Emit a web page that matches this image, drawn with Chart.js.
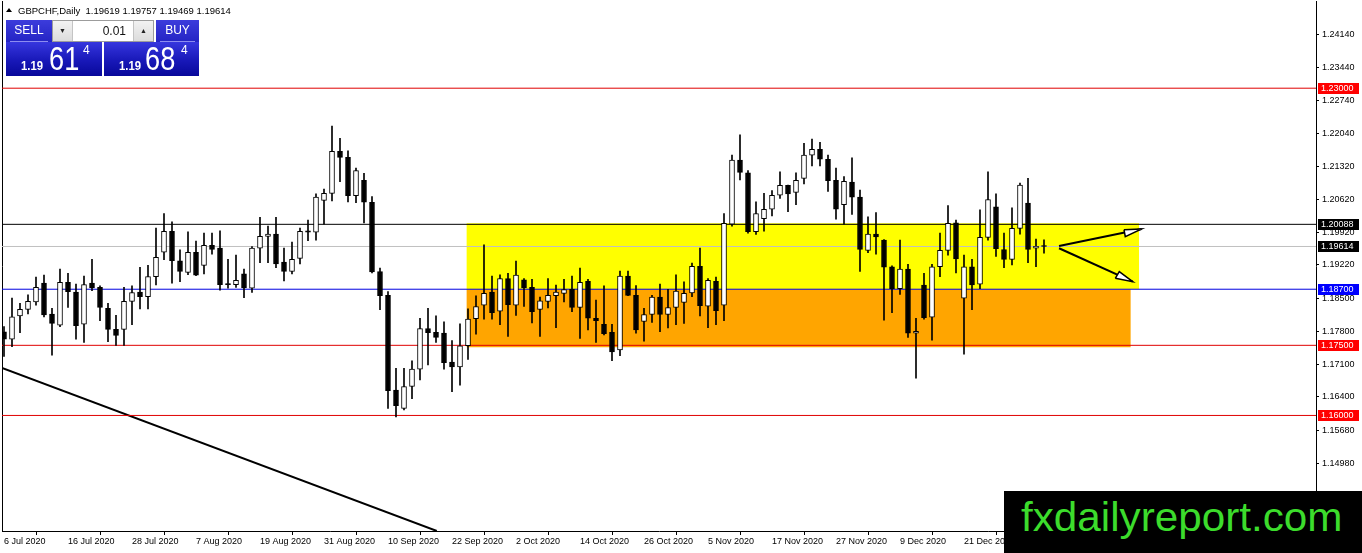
<!DOCTYPE html>
<html><head><meta charset="utf-8">
<script src="https://cdn.jsdelivr.net/npm/chart.js@4.4.0/dist/chart.umd.min.js"></script>
<style>
html,body{margin:0;padding:0;background:#fff;}
#wrap{position:relative;width:1362px;height:553px;overflow:hidden;font-family:"Liberation Sans",Arial,sans-serif;}
#c{position:absolute;left:0;top:0;}
#hdr{position:absolute;left:18px;top:6px;font-size:9.5px;line-height:1;color:#000;white-space:pre;}
#tri{position:absolute;left:6px;top:8px;width:0;height:0;border-left:3px solid transparent;border-right:3px solid transparent;border-bottom:4px solid #000;}
.btn{position:absolute;top:20px;height:22px;background:linear-gradient(#3c3cdc,#2424c4);color:#fff;font-size:12px;line-height:21px;text-align:center;}
.btn .ul{position:absolute;left:4px;right:4px;bottom:0;height:1px;background:#8c8cf0;}
#sell{left:6px;width:46px;}
#buy{left:156px;width:43px;}
#lot{position:absolute;left:52px;top:20px;width:100px;height:20px;background:#fff;border:1px solid #9c9c9c;}
#lot .ar{position:absolute;top:0;width:19px;height:20px;background:linear-gradient(#f2f2f2,#dcdcdc);font-size:7px;line-height:20px;text-align:center;color:#222;}
#dn{left:0;border-right:1px solid #c4c4c4;}
#up{right:0;border-left:1px solid #c4c4c4;}
#lotv{position:absolute;right:27px;top:4px;font-size:12px;line-height:1;color:#111;}
.big{position:absolute;top:42px;height:34px;background:linear-gradient(#3636de 0%,#1818b8 55%,#08089a 100%);color:#fff;}
#bigL{left:6px;width:96px;}
#bigR{left:104px;width:95px;}
.big span{position:absolute;line-height:1;transform-origin:left top;white-space:pre;}
.big .s{font-size:13px;font-weight:bold;top:17px;transform:scaleX(0.87);}
.big .l{font-size:34px;top:-1px;transform:scaleX(0.8);}
.big .p{font-size:12px;top:2px;}
#logo{position:absolute;left:1004px;top:491px;width:358px;height:62px;background:#000;}
#logo span{position:absolute;left:17px;top:6px;font-size:41px;line-height:1;color:#3cdc2c;transform:scaleX(1.03);transform-origin:left top;white-space:pre;}
</style></head>
<body>
<div id="wrap">
<canvas id="c" width="1362" height="553"></canvas>
<div id="tri"></div>
<div id="hdr">GBPCHF,Daily  1.19619 1.19757 1.19469 1.19614</div>
<div class="btn" id="sell">SELL<div class="ul"></div></div>
<div id="lot"><div class="ar" id="dn">&#9660;</div><div id="lotv">0.01</div><div class="ar" id="up">&#9650;</div></div>
<div class="btn" id="buy">BUY<div class="ul"></div></div>
<div class="big" id="bigL"><span class="s" style="left:15px">1.19</span><span class="l" style="left:43px">61</span><span class="p" style="left:77px">4</span></div>
<div class="big" id="bigR"><span class="s" style="left:15px">1.19</span><span class="l" style="left:41px">68</span><span class="p" style="left:77px">4</span></div>
<div id="logo"><span>fxdailyreport.com</span></div>
</div>
<script>
// ---- data (GBPCHF daily) ----
const opens = [1.1779,1.1763,1.1813,1.1827,1.1843,1.1883,1.1817,1.1793,1.1885,1.1864,
1.1795,1.1883,1.1874,1.1829,1.1784,1.1784,1.1844,1.1864,1.1854,1.1897,
1.1949,1.1994,1.1931,1.1906,1.1949,1.1921,1.1964,1.1958,1.1881,1.1880,
1.1903,1.1872,1.1958,1.1983,1.1988,1.1928,1.1908,1.1936,1.1995,1.1992,
1.2060,1.2075,1.2165,1.2152,1.2070,1.2103,1.2056,1.1908,1.1857,1.1654,
1.1615,1.1662,1.1699,1.1786,1.1778,1.1776,1.1714,1.1704,1.1749,1.1807,
1.1836,1.1864,1.1823,1.1893,1.1836,1.1890,1.1874,1.1827,1.1844,1.1856,
1.1861,1.1870,1.1831,1.1887,1.1808,1.1795,1.1778,1.1740,1.1898,1.1857,
1.1801,1.1816,1.1853,1.1816,1.1831,1.1842,1.1862,1.1919,1.1834,1.1887,
1.1836,1.2009,1.2146,1.2119,1.1993,1.2021,1.2041,1.2071,1.2092,1.2077,
1.2107,1.2157,1.2169,1.2148,1.2103,1.2051,1.2099,1.2067,1.1953,1.1988,
1.1975,1.1918,1.1871,1.1913,1.1776,1.1879,1.1810,1.1918,1.1953,1.2012,
1.1851,1.1918,1.1881,1.1981,1.2046,1.1955,1.1934,1.2000,1.2054,1.1958,
1.19619];
const highs = [1.1790,1.1851,1.1840,1.1858,1.1896,1.1900,1.1829,1.1913,1.1904,1.1881,
1.1898,1.1934,1.1877,1.1840,1.1814,1.1874,1.1877,1.1917,1.1921,1.2001,
1.2032,1.2014,1.1954,1.1993,1.1973,1.1990,1.1990,1.1995,1.1934,1.1943,
1.1913,1.1961,1.2024,1.2005,1.2024,1.1958,1.1971,1.2001,1.2018,1.2074,
1.2084,1.2219,1.2193,1.2166,1.2129,1.2118,1.2068,1.1915,1.1865,1.1701,
1.1701,1.1717,1.1808,1.1829,1.1813,1.1800,1.1760,1.1796,1.1828,1.1856,
1.1965,1.1898,1.1901,1.1904,1.1930,1.1893,1.1891,1.1853,1.1893,1.1879,
1.1891,1.1898,1.1915,1.1891,1.1847,1.1877,1.1795,1.1909,1.1909,1.1878,
1.1829,1.1857,1.1881,1.1870,1.1901,1.1886,1.1926,1.1958,1.1893,1.1896,
1.2032,1.2157,1.2200,1.2124,1.2057,1.2075,1.2081,1.2121,1.2093,1.2119,
1.2182,1.2191,1.2184,1.2157,1.2129,1.2111,1.2151,1.2082,1.2025,1.2034,
1.1976,1.1920,1.1975,1.1923,1.1808,1.1904,1.1923,1.1990,1.2049,1.2018,
1.1943,1.1934,1.2040,1.2121,1.2074,1.1990,1.2044,1.2097,1.2107,1.1977,
1.19757];
const lows = [1.1726,1.1747,1.1777,1.1817,1.1836,1.1811,1.1729,1.1790,1.1831,1.1763,
1.1756,1.1867,1.1803,1.1758,1.1750,1.1750,1.1794,1.1828,1.1828,1.1879,
1.1933,1.1883,1.1886,1.1901,1.1899,1.1903,1.1945,1.1868,1.1872,1.1874,
1.1852,1.1863,1.1927,1.1927,1.1916,1.1888,1.1903,1.1924,1.1974,1.1975,
1.2009,1.2059,1.2100,1.2057,1.2055,1.2012,1.1905,1.1826,1.1615,1.1597,
1.1612,1.1636,1.1676,1.1708,1.1756,1.1699,1.1651,1.1665,1.1720,1.1774,
1.1806,1.1806,1.1794,1.1769,1.1814,1.1833,1.1798,1.1769,1.1830,1.1788,
1.1843,1.1822,1.1765,1.1783,1.1756,1.1772,1.1717,1.1728,1.1856,1.1776,
1.1759,1.1799,1.1779,1.1787,1.1794,1.1797,1.1854,1.1813,1.1788,1.1794,
1.1803,1.2005,1.2104,1.1990,1.1987,1.1994,1.2027,1.2064,1.2036,1.2051,
1.2095,1.2134,1.2134,1.2079,1.2020,1.2009,1.2030,1.1908,1.1948,1.1945,
1.1804,1.1820,1.1859,1.1767,1.1680,1.1806,1.1761,1.1897,1.1943,1.1905,
1.1731,1.1826,1.1871,1.1975,1.1940,1.1916,1.1922,1.1988,1.1927,1.1918,
1.19469];
const closes = [1.1763,1.1811,1.1827,1.1844,1.1874,1.1815,1.1797,1.1885,1.1865,1.1792,
1.1880,1.1873,1.1831,1.1784,1.1771,1.1844,1.1863,1.1854,1.1897,1.1938,
1.1994,1.1931,1.1908,1.1949,1.1900,1.1964,1.1955,1.1880,1.1880,1.1889,
1.1873,1.1958,1.1983,1.1988,1.1924,1.1908,1.1934,1.1994,1.1992,1.2067,
1.2075,1.2165,1.2152,1.2070,1.2124,1.2056,1.1907,1.1856,1.1653,1.1621,
1.1662,1.1699,1.1786,1.1777,1.1767,1.1713,1.1704,1.1749,1.1806,1.1833,
1.1861,1.1820,1.1893,1.1837,1.1900,1.1873,1.1822,1.1845,1.1857,1.1864,
1.1869,1.1831,1.1885,1.1808,1.1803,1.1775,1.1736,1.1898,1.1857,1.1783,
1.1816,1.1853,1.1816,1.1831,1.1866,1.1861,1.1919,1.1835,1.1889,1.1824,
1.2011,1.2146,1.2120,1.1993,1.2032,1.2041,1.2071,1.2092,1.2074,1.2103,
1.2157,1.2169,1.2148,1.2102,1.2041,1.2101,1.2067,1.1955,1.1988,1.1982,
1.1917,1.1871,1.1913,1.1776,1.1780,1.1809,1.1918,1.1953,1.2011,1.1935,
1.1918,1.1879,1.1981,1.2062,1.1957,1.1934,1.2000,1.2093,1.1955,1.1962,
1.19614];

const xTickIndex = [0,8,16,24,32,40,48,56,64,72,80,88,96,104,112,120];
const xTickLabels = ['6 Jul 2020','16 Jul 2020','28 Jul 2020','7 Aug 2020','19 Aug 2020','31 Aug 2020',
 '10 Sep 2020','22 Sep 2020','2 Oct 2020','14 Oct 2020','26 Oct 2020','5 Nov 2020','17 Nov 2020',
 '27 Nov 2020','9 Dec 2020','21 Dec 2020'];
const yTickValues = [1.2414,1.2344,1.2274,1.2204,1.2132,1.2062,1.1992,1.1922,1.1850,1.1780,1.1710,1.1640,1.1568,1.1498];

const levelPrices = [1.23, 1.20088, 1.19614, 1.187, 1.175, 1.16];
const yellowZoneX = [57.8, 141.9];
const yellowZoneY = [1.187, 1.2011];
const orangeZoneX = [57.8, 140.85];
const orangeZoneY = [1.1746, 1.187];
const trendX = [-0.25, 54.1];
const trendY = [1.17015, 1.13529];
const arrowUpX = [131.88, 142.21];
const arrowUpY = [1.19625, 1.19989];
const headUpX = [140.0, 142.21, 140.16, 140.0];
const headUpY = [1.19974, 1.19989, 1.19824, 1.19974];
const arrowDnX = [131.88, 141.09];
const arrowDnY = [1.19576, 1.18861];
const headDnX = [138.91, 141.09, 139.41, 138.91];
const headDnY = [1.18934, 1.18861, 1.19075, 1.18934];

// ---- styles ----
const levelColors = ['#e00000','#000000','#c0c0c0','#0000e0','#e00000','#e00000'];
const levelTagBg = ['#ff0000','#000000','#000000','#0000ff','#ff0000','#ff0000'];
const X_MIN = -0.25, X_MAX = 164;
const Y_MIN = 1.135283, Y_MAX = 1.248652;

const idx = opens.map((_, i) => i);
const pts = (xs, ys) => xs.map((x, k) => ({x: x, y: ys[k]}));

const datasets = [];
datasets.push({type:'line', data: pts(yellowZoneX, [yellowZoneY[1], yellowZoneY[1]]), fill:{value: yellowZoneY[0]},
  backgroundColor:'#ffff00', borderWidth:0, pointRadius:0, order:20});
datasets.push({type:'line', data: pts(orangeZoneX, [orangeZoneY[1], orangeZoneY[1]]), fill:{value: orangeZoneY[0]},
  backgroundColor:'#ffa500', borderWidth:0, pointRadius:0, order:19});
datasets.push({type:'line', data: pts(trendX, trendY), borderColor:'#000', borderWidth:2, pointRadius:0, fill:false, order:15});
levelPrices.forEach((p, k) => {
  datasets.push({type:'line', data: [{x: X_MIN - 2, y: p}, {x: X_MAX + 2, y: p}], borderColor: levelColors[k],
    borderWidth:1, pointRadius:0, fill:false, order:10});
});
datasets.push({type:'bar', data: idx.map(i => ({x: i, y: [lows[i], highs[i]]})), backgroundColor:'#000',
  barThickness:1, grouped:false, borderWidth:0, order:5});
datasets.push({type:'bar', data: idx.map(i => ({x: i, y: [opens[i], closes[i]]})),
  backgroundColor: idx.map(i => closes[i] >= opens[i] ? '#ffffff' : '#000000'),
  borderColor:'#000', borderWidth:1, borderSkipped:false, minBarLength:1, barThickness:5, grouped:false, order:4});
datasets.push({type:'line', data: pts(arrowUpX, arrowUpY), borderColor:'#000', borderWidth:2, pointRadius:0, fill:false, order:3});
datasets.push({type:'line', data: pts(arrowDnX, arrowDnY), borderColor:'#000', borderWidth:2, pointRadius:0, fill:false, order:3});
datasets.push({type:'line', data: pts(headUpX, headUpY), borderColor:'#000', borderWidth:1.5, pointRadius:0,
  fill:'shape', backgroundColor:'#ffffff', order:2});
datasets.push({type:'line', data: pts(headDnX, headDnY), borderColor:'#000', borderWidth:1.5, pointRadius:0,
  fill:'shape', backgroundColor:'#ffffff', order:2});

const levelTags = {
  id:'levelTags',
  afterDraw(chart) {
    const ctx = chart.ctx, ys = chart.scales.y;
    ctx.save();
    ctx.font = '9px "Liberation Sans"';
    ctx.textBaseline = 'middle';
    ctx.textAlign = 'left';
    levelPrices.forEach((p, k) => {
      const y = Math.round(ys.getPixelForValue(p));
      ctx.fillStyle = levelTagBg[k];
      ctx.fillRect(ys.left + 2, y - 5, 41, 11);
      ctx.fillStyle = '#ffffff';
      ctx.fillText(p.toFixed(5), ys.left + 5, y + 0.5);
    });
    ctx.restore();
  }
};

Chart.defaults.font.family = '"Liberation Sans", Arial, sans-serif';
Chart.defaults.font.size = 9;
Chart.defaults.color = '#000';

const noPad = s => { s.paddingTop = 0; s.paddingBottom = 0; };

new Chart(document.getElementById('c'), {
  type:'bar',
  data:{ datasets: datasets },
  options:{
    responsive:false, animation:false, devicePixelRatio:1,
    layout:{ padding:{left:0, top:1, right:0, bottom:0} },
    plugins:{ legend:{display:false}, tooltip:{enabled:false} },
    scales:{
      x:{ type:'linear', min:X_MIN, max:X_MAX, offset:false,
        afterBuildTicks: s => { s.ticks = xTickIndex.map(v => ({value: v})); },
        afterFit: s => { s.height = 22; s.paddingLeft = 0; s.paddingRight = 0; },
        ticks:{ autoSkip:false, maxRotation:0, align:'start', padding:1,
          callback: (v, k) => xTickLabels[k] },
        grid:{ drawOnChartArea:false, drawTicks:true, tickLength:4, color:'#000' },
        border:{ display:true, color:'#000' } },
      y:{ type:'linear', position:'right', min:Y_MIN, max:Y_MAX,
        afterBuildTicks: s => { s.ticks = yTickValues.map(v => ({value: v})); },
        afterFit: s => { s.width = 46; noPad(s); },
        ticks:{ autoSkip:false, padding:3, callback: v => Number(v).toFixed(5) },
        grid:{ drawOnChartArea:false, drawTicks:true, tickLength:3, color:'#000' },
        border:{ display:true, color:'#000' } },
      yL:{ type:'linear', position:'left', min:0, max:1,
        afterFit: s => { s.width = 2; noPad(s); },
        ticks:{ display:false },
        grid:{ drawOnChartArea:false, drawTicks:false },
        border:{ display:true, color:'#000' } }
    }
  },
  plugins:[levelTags]
});
</script>
</body></html>
